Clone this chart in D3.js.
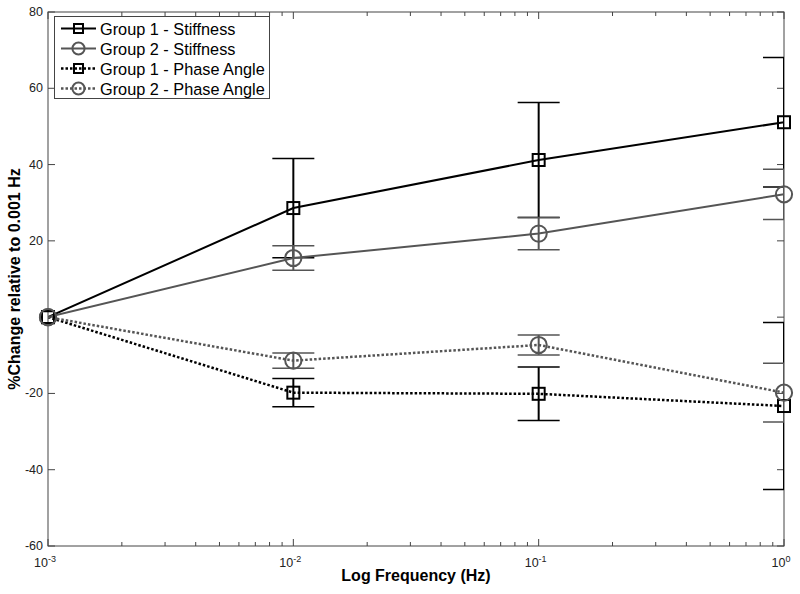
<!DOCTYPE html>
<html>
<head>
<meta charset="utf-8">
<script src="https://cdn.jsdelivr.net/npm/d3@7"></script>
<style>
  body { margin: 0; background: #fff; }
  svg { font-family: "Liberation Sans", Arial, sans-serif; }
</style>
</head>
<body>
<svg></svg>
<script>
const size = {w: 800, h: 594};
const margin = {t: 12, r: 16, b: 48, l: 48};

// data
const freqs = [0.001, 0.01, 0.1, 1];
const g1Stiff = [0, 28.6, 41.2, 51.1];
const g1StiffErr = [0, 13.0, 15.1, 17.0];
const g2Stiff = [0, 15.5, 21.9, 32.2];
const g2StiffErr = [0, 3.2, 4.2, 6.6];
const g1Phase = [0, -19.8, -20.1, -23.3];
const g1PhaseErr = [0, 3.7, 7.0, 21.9];
const g2Phase = [0, -11.4, -7.3, -19.8];
const g2PhaseErr = [0, 2.0, 2.6, 7.7];
const yTicks = [-60, -40, -20, 0, 20, 40, 60, 80];
// the "0" label is not shown in the reference (hidden under the markers)
const yTickLabels = ['-60', '-40', '-20', '', '20', '40', '60', '80'];
const xTicks = [-3, -2, -1, 0];

const series = [
    {name: 'Group 1 - Stiffness', vals: g1Stiff, err: g1StiffErr, color: '#000', marker: 'square', dash: null},
    {name: 'Group 2 - Stiffness', vals: g2Stiff, err: g2StiffErr, color: '#555', marker: 'circle', dash: null},
    {name: 'Group 1 - Phase Angle', vals: g1Phase, err: g1PhaseErr, color: '#000', marker: 'square', dash: '2.5,2'},
    {name: 'Group 2 - Phase Angle', vals: g2Phase, err: g2PhaseErr, color: '#555', marker: 'circle', dash: '2.5,2'}
];

const svg = d3.select('svg').attr('width', size.w).attr('height', size.h);

const x = d3.scaleLog().domain([0.001, 1]).range([margin.l, size.w - margin.r]);
const y = d3.scaleLinear().domain([-60, 80]).range([size.h - margin.b, margin.t]);

const axisColor = '#444';
const plotW = size.w - margin.r - margin.l;

// clip so error caps at the right edge are cut like in the reference
svg.append('defs').append('clipPath').attr('id', 'plotClip')
    .append('rect')
    .attr('x', margin.l).attr('y', margin.t)
    .attr('width', plotW).attr('height', size.h - margin.b - margin.t);

// minor log ticks (bottom and top)
const minor = [];
for (let e = -3; e < 0; e++) {
    for (let k = 2; k <= 9; k++) minor.push(k * Math.pow(10, e));
}
const tickG = svg.append('g').attr('stroke', axisColor).attr('stroke-width', 1);
minor.forEach(v => {
    tickG.append('line').attr('x1', x(v)).attr('x2', x(v))
        .attr('y1', y(-60)).attr('y2', y(-60) - 4);
    tickG.append('line').attr('x1', x(v)).attr('x2', x(v))
        .attr('y1', y(80)).attr('y2', y(80) + 4);
});
xTicks.forEach(e => {
    const v = Math.pow(10, e);
    tickG.append('line').attr('x1', x(v)).attr('x2', x(v))
        .attr('y1', y(-60)).attr('y2', y(-60) - 7);
    tickG.append('line').attr('x1', x(v)).attr('x2', x(v))
        .attr('y1', y(80)).attr('y2', y(80) + 7);
});
yTicks.forEach(v => {
    tickG.append('line').attr('x1', x(0.001)).attr('x2', x(0.001) + 7)
        .attr('y1', y(v)).attr('y2', y(v));
    tickG.append('line').attr('x1', x(1)).attr('x2', x(1) - 7)
        .attr('y1', y(v)).attr('y2', y(v));
});

// frame
svg.append('rect')
    .attr('x', margin.l).attr('y', margin.t)
    .attr('width', plotW).attr('height', size.h - margin.b - margin.t)
    .attr('fill', 'none').attr('stroke', axisColor).attr('stroke-width', 1);

// tick labels
svg.append('g').selectAll('text')
    .data(yTicks)
    .join('text')
    .attr('x', margin.l - 5)
    .attr('y', d => y(d) + 4)
    .attr('text-anchor', 'end')
    .attr('font-size', 12.5)
    .attr('fill', '#222')
    .text((d, i) => yTickLabels[i]);

const xl = svg.append('g').selectAll('text')
    .data(xTicks)
    .join('text')
    .attr('x', d => x(Math.pow(10, d)) - 3)
    .attr('y', y(-60) + 21)
    .attr('text-anchor', 'middle')
    .attr('font-size', 12.5)
    .attr('fill', '#222');
xl.append('tspan').text('10');
xl.append('tspan').attr('dy', -5).attr('font-size', 9).text(d => d);

// axis titles
svg.append('text')
    .attr('x', (margin.l + size.w - margin.r) / 2)
    .attr('y', size.h - 13)
    .attr('text-anchor', 'middle')
    .attr('font-size', 16).attr('font-weight', 'bold')
    .text('Log Frequency (Hz)');

svg.append('text')
    .attr('transform', `translate(20,${y(10)}) rotate(-90)`)
    .attr('text-anchor', 'middle')
    .attr('font-size', 16).attr('font-weight', 'bold')
    .text('%Change relative to 0.001 Hz');

// data
const plotG = svg.append('g').attr('clip-path', 'url(#plotClip)');
const line = d3.line().x(d => x(d[0])).y(d => y(d[1]));
const capW = 21;

function drawMarker(g, type, cx, cy, color, sz) {
    if (type === 'square') {
        g.append('rect').attr('x', cx - sz).attr('y', cy - sz)
            .attr('width', sz * 2).attr('height', sz * 2)
            .attr('fill', 'none').attr('stroke', color).attr('stroke-width', 2);
    } else {
        g.append('circle').attr('cx', cx).attr('cy', cy).attr('r', sz * 1.35)
            .attr('fill', 'none').attr('stroke', color).attr('stroke-width', 2);
    }
}

series.forEach(s => {
    const g = plotG.append('g');
    // error bars
    freqs.forEach((f, i) => {
        if (!s.err[i]) return;
        const cx = x(f);
        const lo = y(s.vals[i] - s.err[i]);
        const hi = y(s.vals[i] + s.err[i]);
        g.append('line').attr('x1', cx).attr('x2', cx).attr('y1', lo).attr('y2', hi)
            .attr('stroke', s.color).attr('stroke-width', 2);
        [lo, hi].forEach(yy => {
            g.append('line').attr('x1', cx - capW).attr('x2', cx + capW)
                .attr('y1', yy).attr('y2', yy)
                .attr('stroke', s.color).attr('stroke-width', 1.5);
        });
    });
    g.append('path')
        .datum(freqs.map((f, i) => [f, s.vals[i]]))
        .attr('d', line)
        .attr('fill', 'none')
        .attr('stroke', s.color)
        .attr('stroke-width', s.dash ? 2.5 : 2)
        .attr('stroke-dasharray', s.dash);
});
series.forEach(s => {
    const g = svg.append('g');
    freqs.forEach((f, i) => drawMarker(g, s.marker, x(f), y(s.vals[i]), s.color, 6));
});

// legend
const legend = svg.append('g');
legend.append('rect')
    .attr('x', 54.5).attr('y', 16.5).attr('width', 215).attr('height', 82)
    .attr('fill', '#fff').attr('stroke', axisColor).attr('stroke-width', 1);
series.forEach((s, i) => {
    const ly = 28.5 + i * 20;
    legend.append('line').attr('x1', 61).attr('x2', 96).attr('y1', ly).attr('y2', ly)
        .attr('stroke', s.color).attr('stroke-width', s.dash ? 2.5 : 2)
        .attr('stroke-dasharray', s.dash);
    drawMarker(legend, s.marker, 78.5, ly, s.color, 4.5);
    legend.append('text')
        .attr('x', 100).attr('y', ly + 6)
        .attr('font-size', 16.3)
        .attr('fill', '#000')
        .text(s.name);
});
</script>
</body>
</html>
